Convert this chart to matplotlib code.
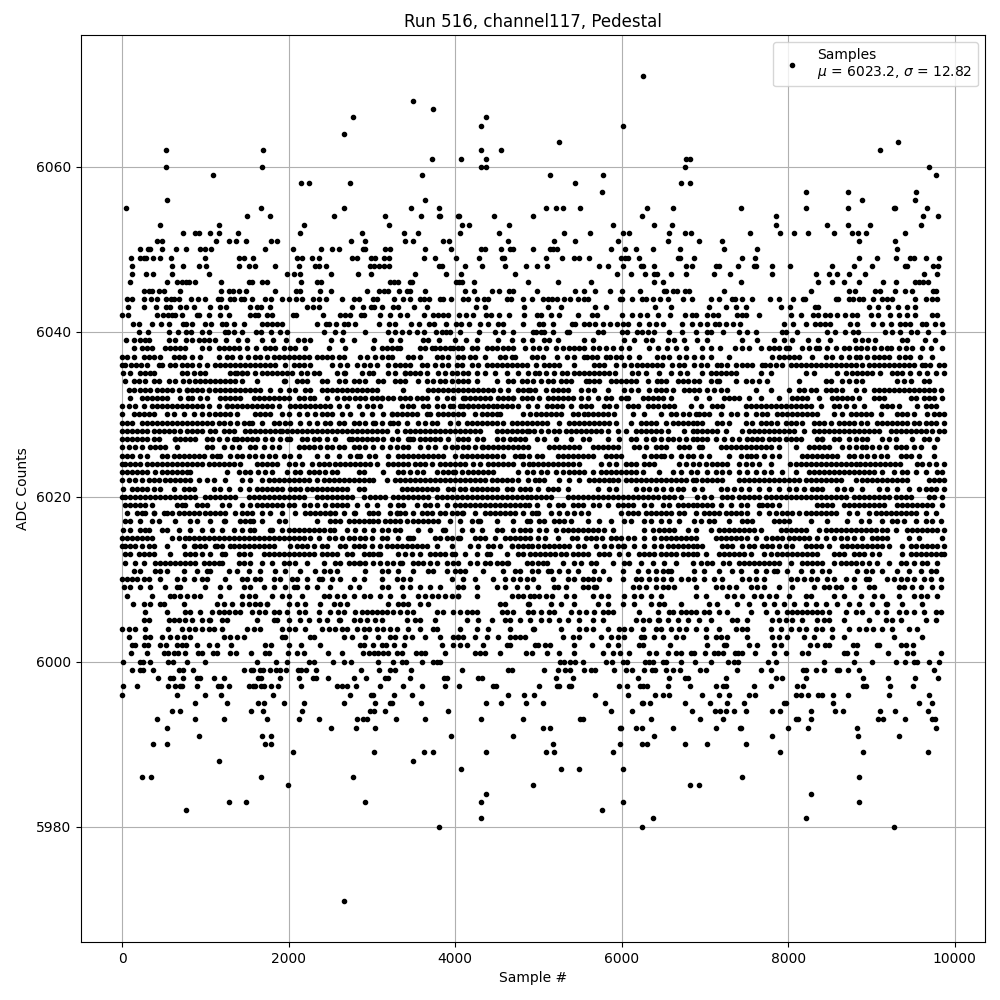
#!/usr/bin/env python3
"""Pedestal samples of one ADC channel, values read level by level off the picture."""

import matplotlib
matplotlib.use("Agg")
import matplotlib.pyplot as plt

# sample numbers seen at each ADC level
x_6071 = [6263]
x_6068 = [3490]
x_6067 = [3729]
x_6066 = [2773, 4374]
x_6065 = [4315, 6012]
x_6064 = [2665]
x_6063 = [5245, 9317]
x_6062 = [526, 1697, 4315, 4554, 9102]
x_6061 = [3717, 4076, 4374, 6778, 6826]
x_6060 = [526, 1685, 4315, 4374, 6766, 9689]
x_6059 = [1088, 3597, 5138, 5772, 9772]
x_6058 = [2151, 2247, 2737, 5437, 6718, 6826]
x_6057 = [5760, 8216, 8719, 9533]
x_6056 = [538, 3633, 8886, 9521]
x_6055 = [48, 1673, 2665, 3466, 3801, 5090, 5210, 5293, 5497, 6311, 6623, 7437, 8216, 8719, 9269, 9285, 9665]
x_6054 = [1506, 1781, 2546, 3155, 3586, 3801, 3813, 4040, 4052, 4470, 4934, 6251, 7856, 9617, 9796]
x_6053 = [454, 1159, 2187, 3203, 4088, 4171, 4649, 5892, 6395, 6611, 7856, 8467, 8719, 8982, 9593]
x_6052 = [729, 873, 920, 1052, 1159, 1398, 2139, 2880, 3382, 3550, 4064, 4530, 5305, 5617, 6012, 6084, 6575, 6766,
          6838, 7545, 7904, 8072, 8240, 8546, 8766, 8838, 8934, 9401]
x_6051 = [418, 478, 1123, 1279, 1374, 1494, 1793, 1865, 2749, 2916, 3394, 3490, 3860, 3932, 4637, 5186, 5437, 5952,
          6563, 6934, 7210, 8850, 9281]
x_6050 = [215, 311, 335, 478, 645, 765, 932, 992, 1064, 1721, 2056, 2390, 2522, 2605, 2892, 2916, 3155, 3215, 3633,
          3956, 4315, 4362, 4554, 4661, 4697, 4934, 5138, 5174, 5222, 5868, 6036, 6168, 6383, 6707, 7234, 7629, 9305]
x_6049 = [108, 215, 263, 287, 370, 454, 586, 992, 1410, 1470, 1578, 2104, 2163, 2283, 2366, 2761, 2821, 2988, 3036,
          3143, 3203, 3621, 3753, 4016, 4291, 4566, 4590, 5090, 5281, 5425, 5485, 5605, 5988, 6036, 6072, 6204, 6683,
          6707, 6874, 7449, 7605, 8850, 9066, 9293, 9461, 9509, 9653, 9808]
x_6048 = [120, 598, 729, 920, 1004, 1410, 1530, 1602, 1841, 2127, 2319, 2366, 2450, 2976, 3024, 3092, 3143, 3203, 3801,
          3837, 4123, 4327, 4601, 4852, 4986, 5106, 5725, 5832, 6012, 6228, 6263, 6395, 6778, 6850, 7138, 7174, 7401,
          7593, 7617, 7808, 8024, 8527, 8790, 9006, 9401, 9425, 9737, 9796]
x_6047 = [120, 287, 370, 598, 1040, 1984, 2068, 2139, 2510, 2833, 2988, 3514, 3896, 4076, 4721, 5940, 6108, 6287, 6395,
          6431, 6599, 6778, 7114, 7305, 7808, 8335, 8491, 8587, 8730, 8922, 9629, 9784]
x_6046 = [96, 538, 657, 717, 765, 801, 873, 1183, 1530, 1566, 1685, 1745, 2151, 2343, 2390, 3215, 3263, 3311, 3454,
          3478, 4016, 4052, 4088, 4231, 4876, 5233, 5629, 6395, 6503, 7437, 8359, 8527, 8671, 8850, 9138, 9293, 9521,
          9569, 9617, 9677]
x_6045 = [263, 323, 359, 442, 502, 693, 1183, 1279, 1327, 1410, 1494, 1841, 2092, 2139, 2378, 2510, 2940, 3084, 3143,
          3191, 3323, 3418, 3454, 3633, 4123, 4231, 4446, 4530, 4649, 4697, 4982, 5437, 5545, 5677, 5856, 6000, 6216,
          6515, 6539, 6623, 6671, 6766, 6814, 7234, 8275, 8730, 8802, 9042, 9102, 9281, 9401, 9485, 9737, 9772]
x_6044 = [60, 120, 263, 347, 418, 526, 586, 622, 681, 825, 908, 992, 1147, 1183, 1291, 1350, 1434, 1470, 1566, 1721,
          1793, 1924, 2008, 2092, 2163, 2295, 2366, 2450, 2641, 2785, 2845, 3012, 3060, 3263, 3370, 3454, 3574, 3630,
          3689, 3813, 3860, 3956, 4100, 4159, 4267, 4351, 4398, 4625, 4673, 4817, 4922, 5054, 5114, 5162, 5222, 5305,
          5377, 5473, 5545, 5593, 5976, 6000, 6120, 6240, 6299, 6383, 6467, 6563, 6743, 6850, 7078, 7174, 7329, 7365,
          7449, 7569, 7784, 7892, 8060, 8180, 8204, 8575, 8599, 8730, 8778, 8850, 8898, 9018, 9126, 9186, 9246, 9521,
          9653, 9725, 9784]
x_6043 = [72, 263, 406, 526, 574, 693, 765, 861, 1052, 1171, 1243, 1542, 1626, 1673, 1781, 2223, 2295, 2366, 2761,
          2892, 2988, 3024, 3120, 3251, 3311, 3502, 3657, 4255, 4362, 4829, 5114, 5269, 5677, 5808, 6407, 6599, 7054,
          7258, 7377, 7497, 7916, 8024, 8323, 8359, 8970, 9078, 9198, 9317, 9425, 9521]
x_6042 = [0, 72, 418, 490, 550, 598, 634, 717, 896, 920, 1040, 1171, 1279, 1542, 1602, 1638, 1745, 1805, 2056, 2092,
          2414, 2617, 2677, 2737, 2869, 2904, 3096, 3215, 3335, 3418, 3621, 3729, 3789, 3849, 3920, 4052, 4136, 4219,
          4374, 4434, 4530, 4649, 4829, 4982, 5038, 5150, 5246, 5473, 5641, 5701, 6000, 6120, 6216, 6311, 6443, 6587,
          6766, 6850, 6898, 7030, 7102, 7162, 7389, 7449, 7497, 7653, 8036, 8156, 8299, 8359, 8443, 8503, 8587, 8687,
          8766, 8826, 8994, 9078, 9222, 9329, 9425, 9521, 9725, 9784]
x_6041 = [131, 203, 359, 466, 562, 729, 765, 837, 992, 1064, 1195, 1243, 1350, 1470, 1685, 1745, 1805, 1865, 1924,
          2343, 2450, 2486, 2570, 2665, 2713, 2797, 3084, 3203, 3275, 3466, 3562, 3681, 3741, 3896, 4016, 4076, 4171,
          4303, 4398, 4518, 4578, 4817, 5006, 5054, 5174, 5401, 5437, 5545, 5605, 5677, 5772, 5856, 5940, 6012, 6072,
          6204, 6335, 6419, 6503, 6731, 6850, 6946, 7030, 7126, 7174, 7258, 7341, 7425, 7952, 8060, 8216, 8323, 8383,
          8443, 8503, 8742, 8826, 9018, 9126, 9234, 9341, 9401, 9461, 9605, 9653, 9760, 9844]
x_6040 = [203, 311, 562, 669, 765, 825, 956, 1040, 1231, 1267, 1350, 1446, 1614, 1673, 1793, 1900, 1984, 2426, 2558,
          2653, 2916, 3191, 3275, 3358, 3442, 3538, 3630, 3765, 3837, 3896, 3944, 4064, 4291, 4482, 4578, 4697, 4934,
          4974, 5034, 5074, 5174, 5341, 5365, 5713, 5772, 6000, 6060, 6180, 6251, 6323, 6395, 6575, 6731, 6898, 7030,
          7078, 7222, 7413, 7509, 7617, 7928, 7976, 8108, 8467, 8563, 8687, 8778, 8838, 9162, 9246, 9341, 9473, 9545,
          9677, 9856]
x_6039 = [48, 148, 220, 270, 320, 560, 640, 770, 838, 918, 978, 1040, 1118, 1245, 1397, 1497, 1685, 1816, 1968, 2116,
          2184, 2255, 2507, 2643, 2786, 3026, 3234, 3341, 3613, 3673, 3804, 4000, 4132, 4260, 4511, 4679, 4811, 4926,
          5074, 5134, 5234, 5553, 5653, 6032, 6144, 6291, 6371, 6563, 6631, 6754, 6910, 7030, 7449, 7629, 7836, 7948,
          8048, 8240, 8359, 8503, 8806, 8886, 8966, 9046, 9365, 9425, 9645, 9765]
x_6038 = [148, 240, 300, 360, 520, 580, 640, 700, 760, 960, 1040, 1160, 1220, 1280, 1340, 1400, 1500, 1608, 1720, 1780,
          1840, 1940, 2020, 2080, 2200, 2480, 2680, 3020, 3120, 3180, 3240, 3300, 3340, 3580, 3640, 3720, 3760, 3820,
          3880, 3940, 3980, 4040, 4080, 4200, 4260, 4380, 4440, 4500, 4580, 4640, 4700, 4840, 4940, 5012, 5092, 5212,
          5292, 5372, 5432, 5492, 5552, 5652, 5732, 5812, 5892, 5992, 6092, 6332, 6432, 6544, 6652, 6772, 6972, 7072,
          7180, 7364, 7452, 7532, 7672, 7772, 7832, 7892, 7972, 8012, 8172, 8252, 8332, 8372, 8464, 8572, 8672, 8732,
          8812, 8872, 8952, 9032, 9112, 9192, 9232, 9332, 9412, 9492, 9612, 9712, 9852]
x_6037 = [0, 60, 148, 260, 320, 380, 460, 620, 680, 740, 840, 932, 1160, 1260, 1320, 1420, 1512, 1600, 1660, 1740,
          1820, 1880, 1940, 2000, 2060, 2120, 2180, 2240, 2340, 2400, 2460, 2520, 2600, 2660, 2860, 2940, 3040, 3120,
          3200, 3240, 3440, 3500, 3580, 3780, 3840, 3920, 4040, 4100, 4180, 4240, 4360, 4540, 4600, 4680, 4720, 4920,
          4980, 5060, 5220, 5340, 5430, 5550, 5590, 5650, 5710, 5810, 5860, 5930, 5990, 6090, 6210, 6430, 6500, 6570,
          6690, 6770, 6870, 6970, 7070, 7290, 7810, 7890, 7950, 8010, 8070, 8130, 8290, 8450, 8530, 8630, 8730, 8810,
          8870, 8950, 9030, 9090, 9150, 9210, 9330, 9410, 9470, 9590, 9730]
x_6036 = [0, 40, 110, 170, 230, 300, 440, 480, 580, 640, 720, 780, 840, 920, 1020, 1120, 1180, 1240, 1300, 1360, 1420,
          1480, 1540, 1600, 1660, 1720, 1780, 1840, 1960, 2060, 2120, 2180, 2260, 2520, 2620, 2700, 2820, 2900, 2980,
          3060, 3200, 3280, 3340, 3400, 3460, 3600, 3660, 3760, 3840, 3920, 4020, 4080, 4200, 4280, 4380, 4440, 4500,
          4560, 4620, 4680, 4740, 4800, 4860, 4970, 5070, 5130, 5190, 5250, 5430, 5670, 5730, 5790, 5930, 6032, 6110,
          6180, 6250, 6310, 6370, 6430, 6490, 6610, 6690, 6750, 6870, 6950, 7030, 7150, 7190, 7270, 7370, 7450, 7510,
          7570, 7690, 7720, 7780, 7850, 7930, 8030, 8090, 8150, 8210, 8270, 8330, 8390, 8450, 8510, 8570, 8630, 8690,
          8750, 8810, 8890, 8970, 9030, 9090, 9150, 9210, 9270, 9330, 9390, 9450, 9510, 9610, 9650, 9710, 9810, 9870]
x_6035 = [10, 100, 220, 280, 340, 380, 720, 780, 860, 940, 1000, 1300, 1360, 1380, 1440, 1440, 1500, 1600, 1680, 1740,
          1800, 1860, 1920, 1980, 2040, 2150, 2220, 2300, 2360, 2580, 2680, 2660, 2880, 2960, 3020, 3200, 3280, 3400,
          3460, 3400, 3520, 3580, 3660, 3800, 3880, 3960, 4020, 4100, 4160, 4260, 4360, 4480, 4620, 4760, 4880, 4960,
          5010, 5092, 5192, 5280, 5340, 5430, 5490, 5550, 5610, 5670, 5730, 5790, 5850, 5920, 6130, 6200, 6290, 6450,
          6590, 6700, 6780, 6972, 7072, 7132, 7192, 7252, 7312, 7380, 7672, 7792, 8212, 8312, 8592, 8692, 8772, 8832,
          8892, 8952, 9012, 9100, 9252, 9312, 9372, 9460, 9572, 9672, 9772, 9872]
x_6034 = [40, 140, 200, 280, 380, 440, 560, 640, 730, 800, 880, 940, 1000, 1060, 1120, 1180, 1240, 1300, 1360, 1440,
          1620, 1940, 1960, 2100, 2160, 2220, 2400, 2460, 2600, 2680, 2780, 2840, 2920, 3080, 3140, 3280, 3340, 3400,
          3560, 3660, 3740, 3820, 3880, 3960, 4040, 4100, 4160, 4260, 4500, 4640, 4700, 4800, 4860, 4930, 5032, 5112,
          5172, 5272, 5332, 5392, 5572, 5612, 5672, 5732, 5872, 5932, 5992, 6052, 6112, 6172, 6312, 6420, 6472, 6532,
          6672, 6732, 6792, 6872, 6932, 7072, 7152, 7172, 7372, 7492, 7572, 7652, 7752, 8132, 8452, 8512, 8652, 8732,
          8812, 8892, 9312, 9392, 9472, 9632, 9692]
x_6033 = [80, 140, 220, 280, 340, 420, 480, 540, 600, 680, 780, 1040, 780, 840, 900, 960, 1040, 1120, 1180, 1240, 1300,
          1360, 1420, 1480, 1540, 1600, 1660, 1780, 1900, 2000, 2080, 2200, 2260, 2400, 2460, 2520, 2580, 2640, 2700,
          2760, 2820, 2880, 2940, 3000, 3060, 3380, 3680, 3740, 3800, 3860, 3920, 3980, 4040, 4100, 4160, 4220, 4280,
          4340, 4400, 4460, 4540, 4640, 4760, 4820, 4880, 4900, 4960, 5092, 5172, 5232, 5292, 5352, 5512, 5592, 5672,
          5832, 6032, 6112, 6192, 6332, 6412, 6472, 6532, 6612, 6752, 6812, 6872, 6932, 7032, 7112, 7192, 7272, 7612,
          7792, 8012, 8132, 8192, 8272, 8332, 8452, 8512, 8572, 8652, 8812, 8912, 9032, 9092, 9152, 9212, 9272, 9332,
          9392, 9452, 9512, 9572, 9632, 9692, 9752, 9832]
x_6032 = [92, 240, 300, 360, 420, 480, 540, 700, 790, 840, 940, 1020, 1180, 1240, 1300, 1360, 1420, 1580, 1640, 1700,
          1760, 1820, 1880, 1940, 2000, 2120, 2180, 2260, 2300, 2460, 2580, 2660, 2720, 2800, 2860, 2920, 3000, 3060,
          3120, 3120, 3200, 3260, 3340, 3400, 3460, 3540, 3600, 3660, 3780, 3900, 3980, 4120, 4100, 4180, 4240, 4300,
          4360, 4420, 4520, 4580, 4640, 4700, 4700, 4800, 4860, 4920, 5012, 5112, 5172, 5232, 5292, 5352, 5412, 5512,
          5592, 5712, 5812, 5872, 5992, 6052, 6072, 6252, 6312, 6372, 6432, 6492, 6592, 6892, 7052, 7232, 7292, 7352,
          7412, 7532, 7672, 7892, 8052, 8112, 8172, 8232, 8372, 8532, 8592, 8652, 8712, 8772, 8852, 9032, 9092, 9152,
          9472, 9532, 9632, 9692, 9752, 9852]
x_6031 = [0, 80, 160, 260, 360, 420, 480, 540, 600, 660, 720, 780, 840, 900, 960, 1040, 1160, 1260, 1260, 1320, 1380,
          1440, 1500, 1560, 1620, 1680, 1740, 1800, 1880, 2020, 2080, 2140, 2200, 2260, 2320, 2380, 2440, 2500, 2600,
          2700, 2840, 2940, 3020, 3100, 3360, 3440, 3500, 3620, 3680, 3780, 3860, 3940, 3980, 4060, 4100, 4160, 4220,
          4160, 4280, 4340, 4400, 4460, 4500, 4560, 4620, 4680, 4760, 4880, 4990, 5100, 5160, 5220, 5280, 5392, 5512,
          5572, 5632, 5792, 5852, 5932, 6072, 6132, 6192, 6312, 6372, 6432, 6512, 6572, 6632, 6832, 6952, 7092, 7152,
          7212, 7492, 7552, 7612, 7672, 7732, 7792, 7852, 7912, 7972, 8032, 8092, 8152, 8212, 8272, 8392, 8552, 8612,
          8692, 8792, 8912, 9132, 9192, 9252, 9332, 9552, 9652, 9712, 9772]
x_6030 = [0, 140, 200, 260, 320, 380, 540, 620, 740, 860, 960, 1040, 1120, 1180, 1240, 1300, 1380, 1600, 1660, 1720,
          1780, 1920, 2000, 2120, 2220, 2320, 2400, 2460, 2520, 2640, 2740, 2880, 3000, 3140, 3240, 3240, 3300, 3360,
          3420, 3480, 3540, 3660, 3700, 3800, 3860, 3920, 3980, 4040, 4100, 4240, 4320, 4380, 4440, 4500, 4540, 4820,
          4900, 4970, 5032, 5092, 5152, 5212, 5272, 5412, 5472, 5552, 5592, 5652, 5712, 5772, 5832, 5912, 6132, 6272,
          6472, 6592, 6652, 6732, 6812, 6892, 6932, 6992, 7052, 7192, 7312, 7392, 7492, 7612, 7692, 7752, 7872, 7932,
          7992, 8052, 8112, 8172, 8232, 8292, 8352, 8552, 8652, 8752, 8812, 8872, 8932, 8992, 9112, 9312, 9372, 9432,
          9512, 9672, 9752, 9812, 9872]
x_6029 = [0, 60, 120, 240, 300, 360, 420, 480, 540, 600, 660, 720, 780, 840, 900, 960, 1020, 1080, 1160, 1220, 1300,
          1380, 1460, 1520, 1560, 1680, 1820, 1880, 1960, 2020, 2140, 2240, 2340, 2440, 2500, 2600, 2660, 2780, 2840,
          2920, 3020, 3040, 3120, 3220, 3260, 3320, 3420, 3560, 3640, 3720, 3780, 3940, 4040, 4140, 4200, 4260, 4320,
          4380, 4440, 4500, 4580, 4680, 4740, 4800, 4860, 4920, 4980, 5040, 5110, 5252, 5372, 5432, 5492, 5552, 5612,
          5672, 5732, 5792, 5852, 5932, 6112, 6232, 6292, 6352, 6412, 6532, 6612, 6672, 6732, 6792, 6852, 6912, 6972,
          7152, 7212, 7292, 7492, 7572, 7672, 7732, 7792, 7872, 7972, 8032, 8092, 8172, 8312, 8372, 8432, 8512, 8612,
          8672, 8732, 8792, 8872, 8952, 9072, 9132, 9192, 9252, 9312, 9372, 9432, 9512, 9572, 9652, 9712, 9772, 9872]
x_6028 = [0, 60, 120, 180, 240, 300, 380, 440, 500, 560, 620, 700, 780, 840, 900, 960, 1060, 1120, 1220, 1280, 1340,
          1480, 1540, 1600, 1660, 1720, 1780, 1840, 1900, 1920, 1980, 2040, 2100, 2160, 2220, 2280, 2340, 2400, 2460,
          2520, 2580, 2640, 2700, 2760, 2820, 2880, 2940, 3000, 3060, 3120, 3180, 3300, 3400, 3460, 3520, 3580, 3640,
          3700, 3760, 3820, 3880, 3940, 4000, 4060, 4120, 4180, 4240, 4300, 4500, 4560, 4620, 4680, 4740, 4800, 4860,
          4890, 4950, 5032, 5112, 5192, 5252, 5332, 5392, 5452, 5512, 5572, 5632, 5692, 5752, 5832, 5952, 6052, 6172,
          6232, 6292, 6352, 6412, 6472, 6552, 6752, 6852, 6912, 6972, 7032, 7092, 7152, 7252, 7452, 7532, 7592, 7652,
          7712, 7772, 7832, 7892, 7952, 8012, 8072, 8192, 8312, 8372, 8432, 8492, 8552, 8612, 8672, 8732, 8792, 8852,
          8912, 8972, 9032, 9092, 9232, 9292, 9352, 9412, 9472, 9532, 9592, 9652, 9732, 9812, 9872]
x_6027 = [0, 60, 120, 180, 240, 300, 380, 440, 640, 640, 700, 760, 820, 880, 1020, 1080, 1160, 1260, 1340, 1380, 1440,
          1500, 1560, 1620, 1720, 1800, 1900, 1980, 2020, 2160, 2220, 2300, 2360, 2460, 2560, 2720, 2760, 2820, 2880,
          2940, 3000, 3060, 3140, 3240, 3320, 3440, 3500, 3460, 3580, 3640, 3700, 3760, 3820, 3920, 4040, 4100, 4160,
          4260, 4340, 4500, 4580, 4660, 4720, 4780, 4840, 4980, 5070, 5210, 5392, 5532, 5612, 5832, 5972, 6112, 6172,
          6372, 6292, 6472, 6552, 6392, 6612, 6692, 6772, 6852, 6912, 6972, 7032, 7132, 7232, 7332, 7412, 7512, 7572,
          7632, 7692, 7772, 7832, 7892, 7972, 8032, 8092, 8152, 8352, 8412, 8412, 8552, 8612, 8732, 8812, 8892, 8952,
          9132, 9212, 9292, 9492, 9632, 9692, 9792]
x_6026 = [0, 80, 160, 240, 340, 400, 460, 520, 660, 1020, 1080, 1220, 1320, 1400, 1540, 1600, 1700, 1800, 1880, 2120,
          2180, 2240, 2300, 2380, 2460, 2520, 2600, 2660, 2780, 2840, 2920, 3020, 3120, 3220, 3300, 3380, 3440, 3580,
          3680, 3760, 3880, 3960, 4020, 4100, 4160, 4240, 4320, 4340, 4400, 4460, 4520, 4580, 4640, 4700, 4760, 4820,
          4880, 5132, 5192, 5252, 5312, 5372, 5432, 5492, 5652, 5712, 5772, 5832, 5892, 5952, 6212, 6152, 6292, 6412,
          6472, 6532, 6692, 6752, 6812, 6932, 6972, 7192, 7252, 7312, 7372, 7432, 7492, 7552, 7612, 7672, 7732, 7792,
          7892, 8092, 8252, 8312, 8372, 8432, 8492, 8652, 8732, 8812, 8892, 8932, 9012, 9092, 9172, 9292, 9352, 9412,
          9512, 9592, 9752]
x_6025 = [0, 60, 120, 220, 300, 480, 540, 620, 680, 740, 800, 860, 920, 980, 1080, 1140, 1180, 1300, 1380, 1440, 1520,
          1600, 1680, 1760, 1840, 1940, 2020, 2120, 2340, 2460, 2600, 2740, 2860, 2820, 2960, 3040, 3200, 3320, 3380,
          3440, 3500, 3560, 3620, 3680, 3740, 3800, 3860, 4000, 4080, 4140, 4200, 4260, 4320, 4380, 4440, 4500, 4580,
          4720, 4780, 4820, 5040, 4890, 4980, 5232, 5292, 5352, 5412, 5472, 5532, 5592, 5652, 5812, 5872, 5932, 5992,
          6272, 6352, 6412, 6472, 6512, 6592, 6712, 6792, 6852, 6952, 7052, 7292, 7432, 7512, 7552, 7612, 7712, 7812,
          7892, 8172, 8232, 8292, 8352, 8412, 8472, 8532, 8592, 8732, 8792, 8872, 8952, 9032, 9112, 9192, 9352, 9412,
          9472, 9572, 9752]
x_6024 = [0, 40, 100, 160, 220, 300, 360, 420, 480, 540, 600, 660, 720, 780, 840, 900, 960, 1040, 1100, 1160, 1220,
          1280, 1340, 1420, 1620, 1680, 1740, 1800, 1860, 2000, 2080, 2160, 2280, 2360, 2420, 2480, 2560, 2620, 2680,
          2740, 2800, 2860, 2920, 2980, 3060, 3200, 3260, 3320, 3380, 3440, 3520, 3580, 3640, 3720, 3820, 3880, 3940,
          4000, 4060, 4120, 4220, 4300, 4400, 4460, 4520, 4580, 4640, 4700, 4820, 4890, 4940, 5000, 5060, 5120, 5180,
          5240, 5300, 5360, 5420, 5490, 5752, 5852, 5932, 6052, 6112, 6172, 6272, 6332, 6392, 6692, 6772, 6852, 6932,
          7012, 7092, 7152, 7212, 7272, 7412, 7492, 7572, 7652, 7792, 8020, 8090, 8150, 8210, 8270, 8330, 8390, 8450,
          8510, 8570, 8630, 8690, 8750, 8810, 8870, 8930, 8990, 9050, 9110, 9170, 9230, 9290, 9350, 9552, 9612, 9692,
          9772, 9872]
x_6023 = [0, 60, 120, 180, 240, 300, 400, 480, 540, 600, 660, 720, 780, 820, 1260, 1400, 1480, 1540, 1630, 1720, 1800,
          1980, 2080, 2140, 2240, 2300, 2360, 2440, 2520, 2580, 2840, 2900, 3140, 3320, 3380, 3460, 3540, 3620, 3780,
          3860, 3920, 3980, 4000, 4080, 4160, 4220, 4280, 4340, 4400, 4460, 4760, 4860, 4930, 5032, 5100, 5212, 5292,
          5372, 5432, 5492, 5552, 5652, 5752, 5812, 5872, 5932, 5992, 6052, 6112, 6172, 6252, 6452, 6612, 6712, 6832,
          6912, 7032, 7132, 7212, 7292, 7412, 7512, 7612, 7712, 7792, 7932, 8092, 8252, 8312, 8372, 8432, 8492, 8552,
          8612, 8672, 8732, 8792, 8852, 8912, 8972, 9032, 9132, 9272, 9372, 9432, 9532, 9652, 9792, 9852]
x_6022 = [0, 80, 160, 240, 320, 380, 440, 520, 580, 640, 700, 760, 820, 920, 1020, 1100, 1240, 1440, 1540, 1680, 1760,
          1820, 1880, 1940, 2000, 2060, 2120, 2180, 2240, 2340, 2420, 2480, 2540, 2600, 2660, 2720, 2780, 2840, 2900,
          2960, 3020, 3180, 3280, 3340, 3400, 3460, 3520, 3580, 3640, 3700, 3760, 3820, 3880, 3940, 4000, 4060, 4120,
          4180, 4240, 4300, 4360, 4440, 4500, 4560, 4620, 4680, 4760, 4880, 4960, 5012, 5072, 5252, 5372, 5492, 5612,
          5672, 5732, 5792, 5852, 5892, 5952, 6052, 6112, 6172, 6232, 6292, 6352, 6412, 6472, 6532, 6592, 6652, 6712,
          6772, 6852, 6892, 6972, 7032, 7092, 7152, 7212, 7412, 7472, 7532, 7592, 7652, 7712, 7772, 7832, 7892, 7952,
          8012, 8072, 8132, 8212, 8272, 8332, 8392, 8452, 8512, 8572, 8632, 8812, 8892, 8952, 9012, 9072, 9132, 9192,
          9252, 9312, 9372, 9432, 9692, 9752, 9812, 9872]
x_6021 = [12, 120, 180, 240, 300, 380, 460, 620, 740, 800, 860, 1100, 1180, 1280, 1420, 1520, 1620, 1680, 1740, 1800,
          1860, 1920, 2020, 2080, 2140, 2220, 2280, 2340, 2400, 2460, 2520, 2580, 2640, 2700, 2840, 2900, 3360, 3420,
          3480, 3540, 3600, 3660, 3720, 3780, 3920, 3980, 4060, 4120, 4200, 4260, 4320, 4380, 4440, 4500, 4620, 4680,
          4780, 4840, 4900, 5000, 5120, 5180, 5240, 5352, 5712, 5852, 5932, 6172, 6252, 6332, 6412, 6492, 6592, 6672,
          6732, 6872, 6972, 7192, 7272, 7352, 7432, 7532, 7652, 7772, 7892, 8012, 8092, 8192, 8292, 8352, 8412, 8592,
          8672, 8752, 8892, 9092, 9192, 9312, 9452, 9572, 9652, 9712, 9772, 9872]
x_6020 = [0, 40, 100, 160, 220, 280, 340, 400, 460, 520, 580, 640, 700, 760, 820, 880, 1000, 1060, 1120, 1180, 1240,
          1300, 1360, 1520, 1580, 1640, 1700, 1760, 1820, 1880, 1940, 2000, 2060, 2120, 2180, 2340, 2400, 2460, 2520,
          2580, 2640, 2700, 2760, 2900, 2980, 3040, 3100, 3160, 3260, 3320, 3380, 3440, 3500, 3560, 3620, 3680, 3780,
          3840, 3900, 3960, 4020, 4080, 4140, 4200, 4260, 4320, 4380, 4440, 4500, 4560, 4620, 4680, 4740, 4800, 4860,
          4910, 4970, 5030, 5092, 5152, 5352, 5412, 5472, 5532, 5592, 5652, 5712, 5772, 5832, 5892, 5952, 6012, 6072,
          6132, 6192, 6252, 6312, 6372, 6432, 6512, 6572, 6632, 6712, 6912, 6992, 7072, 7212, 7272, 7332, 7412, 7472,
          7532, 7592, 7652, 7732, 7792, 7852, 7912, 7972, 8032, 8092, 8152, 8212, 8272, 8332, 8392, 8452, 8512, 8572,
          8632, 8692, 8792, 8852, 8912, 8972, 9032, 9092, 9152, 9212, 9292, 9352, 9412, 9472, 9692, 9752, 9852]
x_6019 = [40, 100, 160, 220, 280, 360, 660, 720, 760, 900, 960, 1020, 1200, 1280, 1440, 1540, 1620, 1680, 1740, 1800,
          1860, 1920, 2000, 2060, 2180, 2260, 2340, 2440, 2520, 2580, 2640, 2700, 2820, 2940, 3060, 3220, 3320, 3380,
          3540, 3640, 3700, 3780, 3900, 4000, 4060, 4120, 4180, 4240, 4300, 4360, 4420, 4480, 4540, 4600, 4660, 4720,
          4780, 4840, 4892, 4980, 5130, 5232, 5292, 5412, 5472, 5532, 5652, 5732, 5832, 5952, 6012, 6072, 6132, 6272,
          6352, 6492, 6572, 6672, 6732, 6792, 6852, 6912, 6972, 7032, 7092, 7192, 7312, 7432, 7512, 7652, 7692, 7752,
          7812, 7892, 8352, 8412, 8472, 8532, 8672, 8732, 8792, 8852, 8912, 8972, 9032, 9092, 9152, 9312, 9372, 9432,
          9492, 9552, 9612, 9672, 9732, 9852]
x_6018 = [60, 180, 240, 280, 380, 380, 500, 540, 600, 680, 740, 800, 860, 920, 1000, 1060, 1120, 1180, 1240, 1360,
          1440, 1500, 1560, 1680, 1780, 1920, 2080, 2200, 2260, 2320, 2380, 2440, 2500, 2560, 2500, 2660, 2780, 2800,
          2960, 3020, 3080, 3220, 3300, 3300, 3340, 3400, 3500, 3600, 3660, 3720, 3820, 3880, 3960, 4020, 4080, 4100,
          4240, 4360, 4420, 4480, 4540, 4600, 4660, 4720, 4820, 4920, 5000, 4970, 5150, 5250, 5340, 5432, 5512, 5592,
          5992, 6072, 6132, 6192, 6292, 6352, 6412, 6472, 6532, 6592, 6692, 6752, 6892, 6992, 7052, 7112, 7172, 7252,
          7312, 7372, 7432, 7512, 7652, 7772, 7852, 7932, 7992, 8052, 8132, 8212, 8272, 8332, 8392, 8452, 8512, 8572,
          8732, 8832, 8972, 9052, 9112, 9172, 9232, 9292, 9352, 9412, 9472, 9532, 9652, 9772]
x_6017 = [40, 100, 220, 360, 440, 640, 820, 900, 1060, 1220, 1240, 1420, 1480, 1540, 1570, 1680, 1880, 1960, 2340,
          2500, 2560, 2620, 2720, 2780, 2840, 2900, 2960, 3020, 3080, 3160, 3220, 3280, 3340, 3420, 3500, 3560, 3620,
          3680, 3740, 3800, 3940, 4060, 4200, 4280, 4300, 4500, 4700, 4860, 4900, 5012, 5072, 5192, 5252, 5312, 5392,
          5592, 5732, 5872, 6032, 6112, 6272, 6352, 6472, 6572, 6692, 6872, 6952, 7052, 7112, 7292, 7452, 7512, 7572,
          7832, 7892, 7952, 8012, 8272, 8472, 8712, 8872, 8972, 9132, 9252, 9312, 9392, 9532, 9652, 9732, 9832]
x_6016 = [12, 100, 220, 280, 320, 480, 540, 680, 820, 960, 1080, 1200, 1340, 1440, 1540, 1580, 1780, 1800, 1920, 2000,
          2060, 2120, 2180, 2240, 2300, 2360, 2420, 2500, 2540, 2700, 2800, 2900, 3020, 3120, 3200, 3280, 3340, 3560,
          3700, 3860, 3880, 4080, 4200, 4320, 4500, 4560, 4700, 4780, 4840, 4900, 5012, 5092, 5212, 5292, 5352, 5412,
          5472, 5532, 5592, 5652, 5712, 5792, 5892, 6272, 6372, 6452, 6512, 6572, 6632, 6792, 6892, 7072, 7172, 7232,
          7292, 7352, 7412, 7472, 7532, 7592, 7672, 7912, 7972, 8032, 8092, 8152, 8212, 8372, 8452, 8512, 8572, 8632,
          8692, 8752, 8812, 8872, 8932, 8992, 9052, 9132, 9192, 9292, 9432, 9492, 9552, 9612, 9672, 9732, 9792, 9872]
x_6015 = [0, 60, 120, 180, 240, 300, 360, 600, 680, 760, 800, 860, 920, 980, 1040, 1100, 1160, 1220, 1280, 1340, 1400,
          1460, 1520, 1580, 1640, 1700, 1760, 1820, 1880, 1940, 2000, 2060, 2120, 2180, 2260, 2360, 2480, 2560, 2640,
          2720, 2780, 2860, 2920, 3000, 3120, 3180, 3320, 3460, 3440, 3500, 3760, 3820, 3900, 3960, 4040, 4060, 4240,
          4300, 4360, 4480, 4600, 4660, 4720, 4780, 4840, 4900, 5000, 5080, 5242, 5400, 5462, 5572, 5632, 5692, 5762,
          5872, 5932, 5992, 6072, 6152, 6272, 6392, 6472, 6532, 6592, 6652, 6712, 6772, 6832, 6892, 7132, 7192, 7252,
          7312, 7372, 7432, 7512, 7612, 7732, 7812, 7872, 7932, 8012, 8072, 8132, 8192, 8252, 8352, 8452, 8552, 8632,
          8712, 8792, 8892, 9012, 9072, 9132, 9192, 9452, 9572, 9852]
x_6014 = [0, 40, 100, 160, 240, 320, 380, 540, 740, 860, 880, 940, 1000, 1140, 1120, 1200, 1300, 1340, 1400, 1460,
          1520, 1580, 1640, 1700, 1760, 1820, 2020, 2100, 2160, 2220, 2300, 2400, 2460, 2620, 2680, 2780, 2840, 2900,
          3000, 3100, 3180, 3240, 3300, 3360, 3420, 3480, 3540, 3600, 3660, 3780, 3960, 4180, 4280, 4400, 4460, 4540,
          4680, 4680, 4760, 4820, 4880, 4920, 5000, 5072, 5132, 5192, 5252, 5312, 5372, 5472, 5552, 5692, 5792, 5872,
          5952, 6012, 6032, 6152, 6272, 6392, 6472, 6552, 6612, 6672, 6732, 6792, 6852, 6912, 6972, 7212, 7272, 7332,
          7452, 7532, 7592, 7692, 7752, 7812, 7892, 7972, 8052, 8212, 8272, 8332, 8392, 8492, 8652, 8712, 8772, 8832,
          8892, 8952, 9012, 9072, 9132, 9212, 9372, 9472, 9532, 9612, 9672, 9732, 9792, 9872]
x_6013 = [40, 100, 200, 260, 320, 380, 580, 760, 820, 880, 960, 1060, 1200, 1240, 1400, 1460, 1540, 1700, 1760, 1820,
          1880, 1940, 2000, 2060, 2120, 2180, 2240, 2300, 2400, 2460, 2520, 2580, 2700, 2760, 2900, 2960, 3020, 3100,
          3080, 3320, 3400, 3480, 3580, 3700, 3760, 3820, 3880, 3960, 4000, 4120, 4260, 4380, 4420, 4620, 4760, 4820,
          4900, 4960, 5020, 5080, 5140, 5200, 5272, 5332, 5412, 5472, 5532, 5592, 5732, 5792, 5852, 5972, 6072, 6212,
          6272, 6332, 6392, 6472, 6532, 6592, 6652, 6732, 6792, 6852, 6912, 7012, 7172, 7232, 7292, 7352, 7412, 7472,
          7552, 7712, 7792, 7872, 7932, 7992, 8052, 8112, 8172, 8232, 8292, 8352, 8552, 8612, 8672, 8792, 8852, 8912,
          9012, 9092, 9372, 9472, 9532, 9592, 9652, 9712, 9772, 9832, 9872]
x_6012 = [40, 160, 260, 400, 460, 520, 580, 640, 700, 760, 820, 880, 980, 1040, 1100, 1160, 1200, 1400, 1460, 1540,
          1680, 1800, 1940, 2000, 2080, 2220, 2420, 2560, 2620, 2720, 2780, 2860, 2840, 2920, 3020, 3100, 3180, 3260,
          3340, 3360, 3500, 3560, 3620, 3700, 3780, 3900, 3980, 4040, 4180, 4260, 4360, 4420, 4500, 4560, 4620, 4640,
          4860, 4920, 5000, 5060, 5100, 5292, 5432, 5512, 5632, 5692, 5892, 6032, 6092, 6232, 6372, 6512, 6652, 6852,
          6952, 7032, 7092, 7222, 7292, 7412, 7472, 7532, 7592, 7652, 7712, 7772, 7832, 7892, 8032, 8172, 8232, 8292,
          8352, 8412, 8552, 8632, 8692, 8752, 8812, 8892, 8972, 9072, 9212, 9352, 9412, 9512, 9612, 9672, 9792]
x_6011 = [140, 220, 400, 460, 540, 740, 900, 1020, 1060, 1280, 1380, 1520, 1660, 1840, 1960, 2140, 2320, 2420, 2500,
          2580, 2920, 3120, 3200, 3320, 3500, 3680, 3740, 3900, 4000, 4060, 4120, 4340, 4580, 4720, 4780, 4920, 5000,
          5112, 5152, 5252, 5352, 5472, 5672, 5772, 6012, 6192, 6312, 6412, 6492, 6552, 6592, 6872, 6992, 7172, 7332,
          7432, 7612, 7732, 7832, 7872, 7992, 8152, 8292, 8412, 8492, 8832, 8932, 9012, 9132, 9312, 9452, 9592, 9712,
          9772]
x_6010 = [0, 60, 120, 180, 260, 320, 460, 660, 740, 860, 960, 1020, 1240, 1440, 1500, 1600, 1660, 1830, 1900, 2040,
          2100, 2220, 2360, 2400, 2520, 2620, 2780, 2900, 3120, 3300, 3380, 3460, 3960, 4100, 4240, 4460, 4600, 4700,
          4780, 4860, 4930, 5172, 5352, 5432, 5532, 5592, 5652, 5732, 5852, 6012, 6172, 6232, 6332, 6412, 6492, 6592,
          6712, 6792, 6872, 6992, 7112, 7212, 7452, 7532, 7612, 7712, 8032, 8112, 8192, 8272, 8352, 8472, 8552, 8692,
          8792, 8932, 8972, 9192, 9272, 9352, 9432, 9512, 9632, 9712, 9832]
x_6009 = [20, 100, 220, 340, 520, 660, 700, 1000, 1180, 1280, 1460, 1540, 1700, 1820, 1960, 2060, 2100, 2220, 2340,
          2500, 2740, 2840, 3120, 3200, 3360, 3460, 3580, 3700, 3820, 4040, 4100, 4260, 4500, 4600, 4740, 4860, 4992,
          5192, 5232, 5332, 5532, 5592, 5672, 5692, 6132, 6212, 6292, 6412, 6492, 6552, 6632, 6892, 7132, 7212, 7292,
          7372, 7552, 7632, 7712, 7892, 8052, 8312, 8432, 8492, 8572, 8632, 8792, 8972, 9032, 9332, 9392, 9492, 9592,
          9732, 9832]
x_6008 = [60, 360, 580, 620, 700, 780, 860, 940, 1180, 1440, 1520, 1600, 1800, 1920, 2000, 2160, 2420, 2480, 2580,
          2660, 2780, 2900, 2980, 3100, 3220, 3380, 3560, 3640, 3720, 3800, 3880, 3960, 4040, 4040, 4260, 4680, 4760,
          4820, 4900, 4950, 5012, 5092, 5162, 5332, 5432, 5652, 5752, 5832, 6032, 6152, 6232, 6352, 6472, 6892, 7012,
          7272, 7352, 7452, 7592, 7672, 7772, 7852, 8012, 8212, 8272, 8552, 8672, 8872, 9032, 9132, 9332, 9512, 9592,
          9672, 9792]
x_6007 = [130, 260, 340, 460, 500, 740, 1140, 1220, 1320, 1440, 1520, 1600, 1660, 1740, 1740, 2000, 2100, 2200, 2380,
          2540, 2620, 2700, 3200, 3320, 3380, 3440, 3580, 3680, 4540, 4600, 4880, 4892, 5152, 5272, 5432, 5712, 5832,
          6012, 6152, 6352, 6452, 6512, 6712, 7052, 7152, 7392, 7532, 7712, 7832, 7952, 8072, 8212, 8332, 8452, 8592,
          8732, 8852, 9012, 9172, 9192, 9372, 9612]
x_6006 = [270, 540, 760, 820, 940, 1080, 1160, 1220, 1280, 1360, 1420, 1560, 1640, 1720, 1820, 1880, 1980, 2120, 2200,
          2360, 2500, 2590, 2660, 2800, 2880, 2940, 3000, 3060, 3120, 3180, 3260, 3340, 3420, 3500, 3780, 3860, 3980,
          4060, 4140, 4200, 4260, 4560, 4620, 4700, 4880, 4932, 5032, 5132, 5192, 5392, 5492, 5572, 5672, 5772, 5832,
          5892, 6212, 6432, 6572, 6612, 6712, 6772, 6832, 6892, 6992, 7052, 7172, 7272, 7552, 7732, 7872, 7992, 8052,
          8112, 8172, 8232, 8292, 8352, 8412, 8492, 8692, 8812, 8892, 9072, 9172, 9332, 9412, 9512, 9632, 9772, 9832]
x_6005 = [260, 320, 560, 620, 680, 760, 840, 960, 1040, 1060, 1200, 1260, 1620, 1820, 1860, 2000, 2140, 2240, 2360,
          2460, 2600, 2620, 2780, 2860, 2940, 3040, 3120, 3420, 3520, 3580, 3760, 4140, 4280, 4440, 4600, 4660, 4780,
          4900, 5032, 5132, 5252, 5352, 5492, 5652, 5772, 6172, 6252, 6332, 6432, 6452, 6552, 6672, 6792, 6932, 7072,
          7332, 7392, 7512, 7812, 7892, 7972, 8052, 8172, 8352, 8432, 8492, 8672, 8972, 9172, 9252, 9352, 9652, 9772]
x_6004 = [0, 80, 160, 280, 550, 720, 800, 880, 960, 1040, 1100, 1200, 1500, 1580, 1660, 1920, 2000, 2080, 2200, 2400,
          2480, 2560, 2640, 2700, 2820, 2900, 2960, 3060, 3140, 3220, 3300, 3440, 3580, 3740, 3780, 4060, 4260, 4400,
          4660, 4940, 4952, 5272, 5492, 5572, 5652, 5832, 5972, 6032, 6112, 6252, 6412, 6472, 6592, 6692, 6772, 6892,
          7012, 7172, 7372, 7452, 7512, 7792, 7912, 8032, 8132, 8212, 8332, 8412, 8532, 8732, 8852, 8932, 9022, 9132,
          9252, 9452, 9552]
x_6003 = [80, 280, 340, 480, 580, 660, 740, 820, 1220, 1300, 1380, 1460, 1920, 1960, 2260, 2300, 2660, 2760, 2920,
          3080, 3220, 3280, 3400, 3480, 3640, 3820, 3980, 4040, 4100, 4040, 4240, 4380, 4520, 4660, 4720, 4780, 4840,
          5292, 5412, 5492, 5752, 5872, 5960, 6030, 6232, 6272, 6392, 6492, 6652, 6732, 7012, 7132, 7192, 7272, 7512,
          7812, 7892, 7992, 8192, 8312, 8532, 8672, 9272, 9612]
x_6002 = [120, 155, 263, 311, 454, 526, 657, 717, 765, 896, 1040, 1135, 1303, 1721, 1793, 2008, 2151, 2378, 2857, 2904,
          3012, 3120, 3167, 3263, 3382, 3837, 3980, 4064, 4147, 4339, 4625, 4661, 4958, 4994, 5078, 5138, 5425, 5641,
          5832, 5952, 6204, 6263, 6587, 7030, 7234, 7258, 7533, 7629, 7832, 7916, 8263, 8347, 8443, 8491, 8778, 8826,
          9066, 9090, 9353, 9413, 9497]
x_6001 = [108, 299, 502, 550, 622, 669, 753, 908, 956, 1088, 1135, 1291, 1374, 1554, 1721, 1769, 1996, 2104, 2187,
          2474, 2641, 2892, 2964, 3024, 3072, 3131, 3191, 3299, 3358, 3526, 3586, 3633, 3884, 4243, 4303, 4362, 4542,
          4853, 4922, 5102, 5246, 5425, 5772, 5892, 5976, 6084, 6335, 6419, 6563, 6659, 6719, 6838, 6874, 7006, 7114,
          7162, 7222, 7365, 7401, 7449, 7605, 7832, 7976, 8168, 8240, 8671, 8707, 8814, 9198, 9425, 9497, 9832]
x_6000 = [12, 215, 251, 335, 550, 610, 777, 992, 1626, 1853, 1984, 2247, 2307, 2534, 2665, 2749, 3072, 3251, 3358,
          3406, 3598, 3729, 3777, 3813, 5257, 5305, 5377, 5437, 5533, 5808, 5880, 6012, 6060, 6287, 6335, 6383, 6503,
          6539, 6719, 6886, 7078, 7281, 7353, 7401, 7760, 7856, 8431, 8790, 9006, 9293, 9401, 9509, 9545, 9689, 9808]
x_5999 = [120, 215, 251, 370, 681, 729, 849, 1470, 1554, 1578, 1661, 1697, 1781, 1853, 1900, 1972, 2116, 2151, 2211,
          2331, 2869, 3084, 3215, 3275, 3466, 4088, 4637, 4685, 5066, 5234, 5317, 5377, 5545, 5629, 5677, 5904, 6048,
          6120, 6275, 6371, 6407, 6539, 6623, 6707, 6946, 7018, 7389, 7677, 7796, 8180, 8216, 8335, 8431, 8587, 8611,
          8719, 8850, 9749]
x_5998 = [430, 574, 610, 729, 896, 932, 1100, 1219, 1638, 1673, 1900, 2127, 2295, 2331, 2474, 2785, 2928, 3155, 3191,
          3454, 3872, 3908, 4279, 4327, 5210, 5413, 6192, 6575, 6766, 6802, 7258, 7856, 7928, 8216, 8898, 9198, 9521,
          9796]
x_5997 = [12, 179, 550, 634, 693, 717, 896, 1147, 1183, 1279, 1530, 1578, 1602, 1673, 1709, 1793, 1877, 2151, 2582,
          2641, 2701, 2809, 3096, 3370, 3598, 3884, 4052, 4458, 4494, 5006, 5222, 5246, 5365, 5389, 5964, 6060, 6216,
          6263, 6311, 6563, 6826, 7138, 7222, 7258, 7593, 7796, 8108, 8180, 8898, 8934, 9222, 9497]
x_5996 = [0, 657, 992, 1183, 1817, 2737, 2988, 3012, 3263, 3478, 4637, 4829, 4946, 5677, 6072, 6407, 6503, 6575, 6970,
          7174, 7293, 7533, 7605, 8096, 8156, 8240, 8359, 8407, 8539, 8719, 9210, 9689]
x_5995 = [873, 1255, 1637, 1709, 1948, 2187, 2665, 3036, 3215, 3239, 3586, 4374, 4554, 4852, 5054, 5796, 6240, 6263,
          6347, 6766, 7066, 7269, 7473, 7952, 7976, 8539, 9569, 9725]
x_5994 = [598, 693, 1554, 1697, 2163, 2976, 3032, 3155, 3920, 5868, 6120, 6850, 7126, 7186, 7258, 7353, 7497, 7808,
          7904, 8275, 8563, 8659, 9102, 9281, 9677]
x_5993 = [418, 873, 1219, 1745, 2127, 2366, 2821, 2892, 2940, 3287, 3633, 4315, 4817, 5497, 5533, 6359, 6946, 7222,
          8096, 8120, 8275, 9078, 9138, 9401, 9725, 9760]
x_5992 = [538, 2510, 2809, 3036, 5054, 5138, 5976, 5988, 6168, 6251, 6623, 7138, 7425, 7437, 8000, 8240, 8826, 9772]
x_5991 = [920, 1685, 1793, 3956, 4697, 6395, 7808, 8838, 9329]
x_5990 = [370, 538, 1721, 1793, 5174, 5976, 6251, 6311, 6766, 7030, 7497]
x_5989 = [2056, 3024, 3621, 3729, 4374, 5090, 5186, 5892, 7904, 8898, 9677]
x_5988 = [1159, 3490]
x_5987 = [4076, 5269, 5485, 6012]
x_5986 = [239, 347, 1673, 2773, 7449, 8850]
x_5985 = [1996, 4934, 6826, 6934]
x_5984 = [4374, 8275]
x_5983 = [1279, 1494, 2916, 4315, 6012, 8850]
x_5982 = [765, 5760]
x_5981 = [4315, 6383, 8216]
x_5980 = [3801, 6240, 9269]
x_5971 = [2665]

levels = [6071, 6068, 6067, 6066, 6065, 6064, 6063, 6062, 6061, 6060, 6059, 6058, 6057, 6056, 6055, 6054, 6053, 6052,
          6051, 6050, 6049, 6048, 6047, 6046, 6045, 6044, 6043, 6042, 6041, 6040, 6039, 6038, 6037, 6036, 6035, 6034,
          6033, 6032, 6031, 6030, 6029, 6028, 6027, 6026, 6025, 6024, 6023, 6022, 6021, 6020, 6019, 6018, 6017, 6016,
          6015, 6014, 6013, 6012, 6011, 6010, 6009, 6008, 6007, 6006, 6005, 6004, 6003, 6002, 6001, 6000, 5999, 5998,
          5997, 5996, 5995, 5994, 5993, 5992, 5991, 5990, 5989, 5988, 5987, 5986, 5985, 5984, 5983, 5982, 5981, 5980,
          5971]

samples, counts = [], []
for lvl in levels:
    for s in globals()[f"x_{lvl}"]:
        samples.append(s)
        counts.append(lvl)

fig, ax = plt.subplots(figsize=(10, 10))
ax.plot(samples, counts, "k.", label="Samples\n$\\mu$ = 6023.2, $\\sigma$ = 12.82")
ax.set_title("Run 516, channel117, Pedestal")
ax.set_xlabel("Sample #")
ax.set_ylabel("ADC Counts")
ax.legend(loc="upper right")
ax.grid()
fig.subplots_adjust(left=0.081, right=0.985, top=0.965, bottom=0.058)
fig.savefig("out.png", dpi=100)
